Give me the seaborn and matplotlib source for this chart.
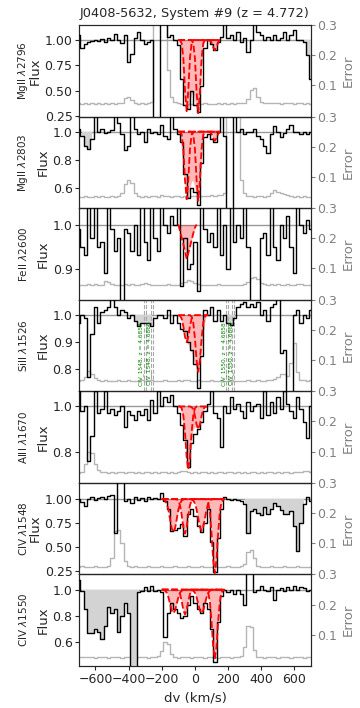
import numpy as np
import matplotlib
matplotlib.use("Agg")
import matplotlib.pyplot as plt
import seaborn as sns

sns.set_style("ticks")

# pixel velocity grid (km/s)
v_pix = np.arange(-700, 701, 20)

title = "J0408-5632, System #9 (z = 4.772)"
species = [r"MgII $\lambda$2796", r"MgII $\lambda$2803", r"FeII $\lambda$2600",
           r"SiII $\lambda$1526", r"AlII $\lambda$1670", r"CIV $\lambda$1548",
           r"CIV $\lambda$1550"]

flux_mg2796 = [1.05, 0.92, 0.96, 0.98, 0.99, 1.00, 0.99, 1.01, 0.98, 1.02,
               1.00, 1.06, 1.00, 0.97, 1.05, 0.78, 0.86, 1.02, 1.08, 1.00,
               0.96, 0.98, 1.00, -0.5, -0.5, 2.0, 2.0, 1.03, 1.05, 1.00,
               0.95, 0.62, 0.36, 0.32, 0.50, 0.36, 0.29, 0.55, 0.92, 1.00,
               0.96, 0.90, 0.98, 1.03, 1.16, 1.02, 1.05, 1.00, 1.08, 0.98,
               1.02, 0.88, 1.00, 1.16, 1.08, 1.05, 1.00, 1.03, 1.00, 1.05,
               1.00, 1.02, 1.08, 1.00, 1.05, 1.10, 1.00, 1.00, 0.98, 0.85,
               0.62]
err_mg2796 = [0.040, 0.038, 0.040, 0.039, 0.041, 0.038, 0.040, 0.039, 0.041, 0.038,
              0.040, 0.039, 0.040, 0.042, 0.058, 0.060, 0.050, 0.041, 0.039, 0.040,
              0.038, 0.041, 0.045, 0.60, 0.60, 0.60, 0.60, 0.15, 0.06, 0.045,
              0.040, 0.038, 0.036, 0.037, 0.039, 0.036, 0.035, 0.037, 0.040, 0.038,
              0.039, 0.037, 0.040, 0.038, 0.041, 0.039, 0.040, 0.038, 0.041, 0.040,
              0.042, 0.055, 0.085, 0.090, 0.060, 0.045, 0.041, 0.040, 0.042, 0.040,
              0.041, 0.039, 0.040, 0.042, 0.040, 0.039, 0.041, 0.040, 0.038, 0.040,
              0.039]

flux_mg2803 = [1.02, 0.97, 0.90, 0.88, 0.95, 1.12, 1.00, 1.02, 0.99, 1.00,
               1.01, 1.12, 1.06, 0.98, 0.87, 0.90, 1.12, 1.02, 0.98, 1.00,
               0.93, 1.02, 0.99, 1.00, 0.98, 1.05, 0.97, 0.95, 1.12, 1.02,
               0.98, 0.93, 0.70, 0.53, 0.60, 0.57, 0.48, 0.78, 0.96, 0.98,
               0.95, 0.93, 1.00, 1.12, 0.97, 0.30, 0.30, 1.12, 1.00, 1.02,
               0.98, 1.00, 1.00, 1.02, 0.97, 0.95, 0.90, 0.85, 0.98, 1.04,
               1.00, 0.96, 0.99, 1.02, 1.05, 1.00, 1.00, 0.98, 1.00, 0.98,
               1.00]
err_mg2803 = [0.034, 0.033, 0.035, 0.034, 0.033, 0.035, 0.034, 0.036, 0.034, 0.033,
              0.035, 0.034, 0.036, 0.045, 0.075, 0.090, 0.080, 0.045, 0.036, 0.034,
              0.035, 0.033, 0.035, 0.036, 0.034, 0.038, 0.035, 0.036, 0.034, 0.037,
              0.035, 0.034, 0.036, 0.033, 0.035, 0.036, 0.034, 0.035, 0.037, 0.035,
              0.038, 0.036, 0.038, 0.040, 0.045, 0.60, 0.60, 0.60, 0.60, 0.09,
              0.045, 0.036, 0.035, 0.034, 0.036, 0.035, 0.034, 0.036, 0.045, 0.055,
              0.050, 0.045, 0.042, 0.038, 0.036, 0.034, 0.035, 0.033, 0.035, 0.034,
              0.034]

flux_fe2600 = [0.99, 0.95, 0.93, 1.05, 0.97, 1.05, 0.95, 0.96, 0.89, 1.05,
               0.99, 0.94, 0.97, 0.82, 0.99, 0.98, 0.94, 1.00, 0.93, 1.05,
               0.96, 0.92, 1.05, 0.97, 0.94, 1.05, 1.00, 0.98, 1.02, 1.00,
               1.05, 0.86, 0.97, 0.90, 0.91, 0.96, 0.85, 1.05, 0.99, 0.96,
               0.98, 0.95, 1.05, 0.93, 1.00, 0.90, 1.05, 0.96, 1.00, 0.97,
               1.05, 0.95, 0.82, 0.82, 0.82, 0.97, 0.98, 0.93, 1.05, 0.95,
               0.92, 1.00, 0.97, 1.02, 0.95, 0.89, 1.05, 1.00, 0.98, 1.01,
               0.99]
err_fe2600 = [0.045, 0.046, 0.044, 0.048, 0.045, 0.047, 0.044, 0.046, 0.058, 0.055,
              0.047, 0.045, 0.046, 0.044, 0.048, 0.045, 0.047, 0.046, 0.045, 0.048,
              0.050, 0.047, 0.045, 0.046, 0.044, 0.046, 0.045, 0.047, 0.045, 0.046,
              0.045, 0.050, 0.055, 0.060, 0.058, 0.052, 0.047, 0.045, 0.046, 0.044,
              0.046, 0.045, 0.047, 0.045, 0.046, 0.044, 0.046, 0.045, 0.044, 0.046,
              0.048, 0.055, 0.068, 0.072, 0.065, 0.052, 0.047, 0.046, 0.048, 0.045,
              0.047, 0.046, 0.045, 0.048, 0.046, 0.045, 0.047, 0.048, 0.046, 0.045,
              0.046]

flux_si1526 = [0.97, 1.00, 0.99, 0.77, 0.93, 1.03, 0.97, 1.01, 1.02, 1.03,
               1.07, 1.03, 1.00, 1.02, 1.01, 0.99, 1.00, 0.98, 0.96, 0.97,
               0.97, 0.97, 0.96, 0.99, 1.00, 1.00, 0.99, 1.02, 0.97, 1.00,
               0.97, 0.95, 0.94, 0.90, 0.87, 0.82, 0.73, 0.85, 1.02, 1.00,
               1.03, 0.98, 1.02, 0.98, 1.00, 0.97, 0.965, 0.99, 1.03, 1.04,
               1.05, 1.03, 1.04, 1.03, 1.05, 1.00, 1.02, 0.98, 1.03, 1.04,
               1.07, 0.86, 0.87, 0.70, 0.70, 1.00, 1.02, 0.97, 1.00, 0.99,
               1.02]
err_si1526 = [0.031, 0.032, 0.045, 0.062, 0.055, 0.040, 0.033, 0.031, 0.032, 0.030,
              0.031, 0.030, 0.032, 0.031, 0.030, 0.032, 0.031, 0.030, 0.031, 0.032,
              0.030, 0.031, 0.032, 0.030, 0.031, 0.030, 0.032, 0.031, 0.030, 0.031,
              0.032, 0.031, 0.033, 0.032, 0.031, 0.030, 0.032, 0.031, 0.030, 0.031,
              0.032, 0.030, 0.031, 0.032, 0.030, 0.031, 0.032, 0.030, 0.031, 0.030,
              0.031, 0.032, 0.030, 0.031, 0.032, 0.030, 0.031, 0.033, 0.035, 0.038,
              0.045, 0.052, 0.055, 0.048, 0.090, 0.155, 0.060, 0.035, 0.032, 0.031,
              0.032]

flux_al1670 = [1.07, 0.98, 1.00, 0.76, 0.87, 1.07, 0.97, 0.99, 1.07, 0.97,
               0.99, 0.96, 0.98, 1.00, 0.91, 0.98, 0.96, 0.94, 0.98, 0.96,
               0.99, 0.94, 1.03, 0.97, 1.07, 1.00, 1.04, 1.02, 1.05, 1.00,
               0.97, 0.92, 0.85, 0.73, 0.84, 0.88, 0.90, 0.93, 0.98, 1.01,
               1.07, 0.97, 0.95, 0.82, 1.00, 0.97, 1.04, 0.99, 1.01, 0.98,
               0.95, 1.02, 0.98, 1.00, 1.01, 0.95, 1.07, 0.96, 1.02, 0.97,
               1.04, 0.99, 1.07, 1.01, 0.98, 0.95, 1.04, 0.99, 0.93, 0.86,
               1.00]
err_al1670 = [0.030, 0.031, 0.060, 0.100, 0.095, 0.060, 0.040, 0.033, 0.031, 0.030,
              0.031, 0.030, 0.032, 0.031, 0.030, 0.032, 0.031, 0.030, 0.031, 0.030,
              0.031, 0.032, 0.030, 0.031, 0.030, 0.032, 0.031, 0.030, 0.031, 0.030,
              0.033, 0.035, 0.034, 0.031, 0.030, 0.031, 0.030, 0.032, 0.031, 0.030,
              0.031, 0.030, 0.032, 0.031, 0.030, 0.031, 0.032, 0.030, 0.031, 0.030,
              0.031, 0.030, 0.032, 0.031, 0.030, 0.031, 0.030, 0.032, 0.031, 0.030,
              0.031, 0.030, 0.032, 0.031, 0.030, 0.031, 0.032, 0.033, 0.035, 0.034,
              0.032]

flux_c1548 = [1.00, 0.97, 0.93, 1.00, 1.02, 0.99, 1.01, 1.02, 1.00, 1.03,
              1.04, 0.65, 1.20, 1.20, 0.98, 1.00, 0.96, 1.02, 0.99, 1.01,
              0.98, 1.02, 1.00, 1.01, 1.00, 1.06, 0.98, 0.90, 0.67, 0.68,
              0.70, 0.74, 0.62, 0.85, 0.90, 0.82, 0.72, 0.66, 0.75, 0.90,
              0.55, 0.24, 0.60, 0.90, 1.02, 1.00, 0.99, 1.00, 0.99, 0.98,
              0.95, 0.65, 0.88, 0.90, 0.86, 0.83, 0.92, 0.84, 0.90, 0.96,
              0.93, 0.89, 0.85, 0.84, 0.88, 0.72, 0.46, 0.75, 0.95, 1.02,
              0.98]
err_c1548 = [0.022, 0.023, 0.022, 0.021, 0.022, 0.023, 0.022, 0.021, 0.022, 0.023,
             0.050, 0.140, 0.145, 0.100, 0.040, 0.024, 0.022, 0.023, 0.022, 0.021,
             0.022, 0.023, 0.022, 0.021, 0.022, 0.023, 0.022, 0.021, 0.022, 0.023,
             0.022, 0.021, 0.022, 0.023, 0.022, 0.021, 0.022, 0.023, 0.022, 0.021,
             0.022, 0.023, 0.022, 0.021, 0.022, 0.023, 0.022, 0.021, 0.022, 0.023,
             0.030, 0.070, 0.078, 0.050, 0.025, 0.022, 0.021, 0.022, 0.023, 0.022,
             0.021, 0.022, 0.023, 0.022, 0.021, 0.022, 0.023, 0.022, 0.021, 0.022,
             0.022]

flux_c1550 = [1.07, 0.99, 0.85, 0.67, 0.67, 0.70, 0.68, 0.62, 0.72, 0.87,
              0.82, 0.85, 0.68, 0.80, 0.90, 0.82, 0.30, 0.30, 0.98, 0.99,
              1.02, 0.99, 1.03, 0.99, 1.00, 0.98, 0.64, 0.82, 0.90, 0.85,
              0.82, 0.78, 0.80, 0.88, 0.95, 0.90, 0.85, 0.82, 0.90, 0.85,
              0.70, 0.45, 0.75, 0.95, 1.00, 0.98, 1.00, 0.97, 1.00, 0.97,
              0.88, 1.20, 1.20, 0.98, 1.00, 1.03, 1.00, 0.99, 1.02, 0.92,
              1.00, 1.01, 0.99, 1.02, 1.00, 1.03, 1.00, 1.02, 1.01, 0.99,
              1.00]
err_c1550 = [0.027, 0.026, 0.025, 0.026, 0.025, 0.024, 0.025, 0.026, 0.025, 0.024,
             0.025, 0.026, 0.025, 0.024, 0.025, 0.026, 0.025, 0.024, 0.025, 0.026,
             0.025, 0.024, 0.025, 0.026, 0.030, 0.045, 0.076, 0.070, 0.035, 0.025,
             0.024, 0.025, 0.026, 0.025, 0.024, 0.025, 0.026, 0.025, 0.024, 0.025,
             0.026, 0.025, 0.024, 0.025, 0.026, 0.025, 0.024, 0.025, 0.026, 0.030,
             0.060, 0.130, 0.125, 0.050, 0.027, 0.025, 0.024, 0.025, 0.026, 0.025,
             0.024, 0.025, 0.026, 0.025, 0.024, 0.025, 0.026, 0.025, 0.024, 0.025,
             0.025]

# model fits (total profile + components) on 10 km/s grids
vmod_mg2796 = np.arange(-100, 151, 10)
mod_mg2796 = [1.0, 0.96, 0.72, 0.52, 0.38, 0.31, 0.33, 0.40, 0.47, 0.47,
              0.40, 0.30, 0.29, 0.45, 0.72, 0.93, 0.99, 1.0, 1.0, 0.99,
              0.96, 0.92, 0.90, 0.93, 0.98, 1.0]
comp_mg2796 = [
    [1.0, 0.997, 0.969, 0.825, 0.505, 0.30, 0.505, 0.825, 0.969, 0.997] + [1.0] * 16,
    [1.0] * 8 + [0.997, 0.968, 0.82, 0.49, 0.28, 0.49, 0.82, 0.968, 0.997] + [1.0] * 9,
    [1.0] * 19 + [0.996, 0.975, 0.929, 0.90, 0.929, 0.975, 0.996],
]

vmod_mg2803 = np.arange(-100, 151, 10)
mod_mg2803 = [1.0, 0.97, 0.85, 0.72, 0.60, 0.52, 0.54, 0.60, 0.65, 0.65,
              0.60, 0.53, 0.51, 0.62, 0.82, 0.95, 0.99, 1.0, 1.0, 0.99,
              0.975, 0.95, 0.935, 0.95, 0.985, 1.0]
comp_mg2803 = [
    [1.0, 0.998, 0.979, 0.88, 0.66, 0.52, 0.66, 0.88, 0.979, 0.998] + [1.0] * 16,
    [1.0] * 8 + [0.998, 0.978, 0.877, 0.654, 0.51, 0.654, 0.877, 0.978, 0.998] + [1.0] * 9,
    [1.0] * 19 + [0.997, 0.984, 0.954, 0.935, 0.954, 0.984, 0.997],
]

vmod_fe2600 = np.arange(-100, 11, 10)
mod_fe2600 = [1.0, 0.985, 0.97, 0.955, 0.94, 0.922, 0.935, 0.95, 0.965, 0.98, 0.993, 1.0]
comp_fe2600 = [mod_fe2600]

vmod_si1526 = np.arange(-100, 81, 10)
mod_si1526 = [1.0, 1.0, 0.975, 0.95, 0.925, 0.905, 0.89, 0.875, 0.86, 0.84,
              0.815, 0.80, 0.79, 0.82, 0.87, 0.93, 0.975, 1.0, 1.0]
comp_si1526 = [
    [1.0, 0.997, 0.987, 0.959, 0.92, 0.90, 0.92, 0.959, 0.987, 0.997] + [1.0] * 9,
    [1.0] * 8 + [0.994, 0.972, 0.914, 0.832, 0.79, 0.832, 0.914, 0.972, 0.994, 1.0, 1.0],
]

vmod_al1670 = np.arange(-100, 71, 10)
mod_al1670 = [1.0, 1.0, 0.96, 0.90, 0.83, 0.76, 0.72, 0.78, 0.86, 0.90,
              0.91, 0.905, 0.90, 0.92, 0.955, 0.985, 1.0, 1.0]
comp_al1670 = [
    [1.0, 1.0, 0.992, 0.962, 0.885, 0.776, 0.72, 0.776, 0.885, 0.962, 0.992] + [1.0] * 7,
    [1.0] * 8 + [0.997, 0.987, 0.959, 0.92, 0.90, 0.92, 0.959, 0.987, 0.997, 1.0],
]

vmod_c1548 = np.arange(-200, 181, 10)
mod_c1548 = [1.0, 0.996, 0.985, 0.953, 0.888, 0.79, 0.696, 0.655, 0.696, 0.788,
             0.874, 0.894, 0.823, 0.701, 0.64, 0.704, 0.835, 0.938, 0.98, 0.982,
             0.955, 0.893, 0.80, 0.709, 0.67, 0.709, 0.80, 0.888, 0.923, 0.854,
             0.644, 0.366, 0.23, 0.366, 0.647, 0.867, 0.966, 0.994, 1.0]
comp_c1548 = [
    [1.0, 0.996, 0.985, 0.953, 0.888, 0.79, 0.696, 0.655, 0.696, 0.79, 0.888,
     0.953, 0.985, 0.996] + [1.0] * 25,
    [1.0] * 9 + [0.997, 0.984, 0.938, 0.835, 0.704, 0.64, 0.704, 0.835, 0.938,
                 0.984, 0.997] + [1.0] * 19,
    [1.0] * 18 + [0.996, 0.985, 0.955, 0.893, 0.80, 0.709, 0.67, 0.709, 0.80,
                  0.893, 0.955, 0.985, 0.996] + [1.0] * 8,
    [1.0] * 27 + [0.994, 0.966, 0.867, 0.647, 0.366, 0.23, 0.366, 0.647, 0.867,
                  0.966, 0.994, 1.0],
]

vmod_c1550 = np.arange(-200, 181, 10)
mod_c1550 = [1.0, 0.998, 0.992, 0.976, 0.942, 0.891, 0.841, 0.82, 0.841, 0.89,
             0.934, 0.944, 0.906, 0.842, 0.81, 0.844, 0.913, 0.965, 0.99, 0.991,
             0.976, 0.942, 0.891, 0.841, 0.82, 0.841, 0.891, 0.938, 0.954, 0.901,
             0.755, 0.564, 0.47, 0.564, 0.757, 0.908, 0.977, 0.996, 1.0]
comp_c1550 = [
    [1.0, 0.998, 0.992, 0.976, 0.942, 0.891, 0.841, 0.82, 0.841, 0.891, 0.942,
     0.976, 0.992, 0.998] + [1.0] * 25,
    [1.0] * 9 + [0.999, 0.992, 0.967, 0.913, 0.844, 0.81, 0.844, 0.913, 0.967,
                 0.992, 0.999] + [1.0] * 19,
    [1.0] * 18 + [0.998, 0.992, 0.976, 0.942, 0.891, 0.841, 0.82, 0.841, 0.891,
                  0.942, 0.976, 0.992, 0.998] + [1.0] * 8,
    [1.0] * 27 + [0.996, 0.977, 0.908, 0.757, 0.564, 0.47, 0.564, 0.757, 0.908,
                  0.977, 0.996, 1.0],
]

# blended / masked velocity ranges (grey)
mask_ranges = [[(650, 700)], [(-690, -610)], [], [(-360, -250), (180, 250)], [],
               [(300, 670)], [(-690, -340)]]

# interloper markers on SiII panel
interloper_v = [-310, -296, -266, -252, 186, 200, 226, 238]
interloper_lab = ["CIV_1548, z = 4.6858", "CIV_1548, z = 4.6866",
                  "CIV_1550, z = 4.6858", "CIV_1550, z = 4.6866"]
interloper_lab_v = [-322, -276, 175, 216]

ylims = [(0.247, 1.148), (0.457, 1.107), (0.830, 1.037), (0.718, 1.057),
         (0.662, 1.067), (0.216, 1.169), (0.417, 1.116)]
yticks = [[0.25, 0.5, 0.75, 1.0], [0.6, 0.8, 1.0], [0.9, 1.0], [0.8, 0.9, 1.0],
          [0.8, 1.0], [0.25, 0.5, 0.75, 1.0], [0.6, 0.8, 1.0]]
yfmt = ["%.2f", "%.1f", "%.1f", "%.1f", "%.1f", "%.2f", "%.1f"]

fluxes = [flux_mg2796, flux_mg2803, flux_fe2600, flux_si1526, flux_al1670, flux_c1548, flux_c1550]
errs = [err_mg2796, err_mg2803, err_fe2600, err_si1526, err_al1670, err_c1548, err_c1550]
vmods = [vmod_mg2796, vmod_mg2803, vmod_fe2600, vmod_si1526, vmod_al1670, vmod_c1548, vmod_c1550]
mods = [mod_mg2796, mod_mg2803, mod_fe2600, mod_si1526, mod_al1670, mod_c1548, mod_c1550]
comps = [comp_mg2796, comp_mg2803, comp_fe2600, comp_si1526, comp_al1670, comp_c1548, comp_c1550]

fig, axes = plt.subplots(7, 1, figsize=(3.6, 7.08), dpi=100, sharex=True)
fig.subplots_adjust(left=0.219, right=0.864, top=0.9647, bottom=0.0593, hspace=0)

for i, ax in enumerate(axes):
    flux = np.array(fluxes[i])
    ax2 = ax.twinx()
    sns.lineplot(x=v_pix, y=errs[i], ax=ax2, color="#b5b5b5", linewidth=1,
                 drawstyle="steps-mid")
    ax2.set_ylim(-0.004, 0.3)
    ax2.set_yticks([0.1, 0.2, 0.3])
    ax2.tick_params(axis="y", colors="gray", labelsize=9, length=3, pad=1.5)
    ax2.set_ylabel("Error", color="gray", fontsize=9.5, labelpad=3)
    ax.set_zorder(ax2.get_zorder() + 1)
    ax.patch.set_visible(False)

    ax.axhline(1.0, color="#999999", lw=1, zorder=1)
    for lo, hi in mask_ranges[i]:
        sel = (v_pix >= lo) & (v_pix <= hi)
        ax.fill_between(v_pix, np.minimum(flux, 1.0), 1.0, where=sel, step="mid",
                        color="#d3d3d3", lw=0, zorder=1)
    ax.fill_between(vmods[i], mods[i], 1.0, color="red", alpha=0.28, lw=0, zorder=2)
    for c in comps[i]:
        ax.plot(vmods[i], c, color="red", ls="--", lw=1.3, zorder=4)
    sns.lineplot(x=v_pix, y=flux, ax=ax, color="black", linewidth=1,
                 drawstyle="steps-mid", zorder=3)

    ax.set_ylim(*ylims[i])
    ax.set_yticks(yticks[i])
    ax.yaxis.set_major_formatter(matplotlib.ticker.FormatStrFormatter(yfmt[i]))
    ax.tick_params(axis="y", labelsize=9, length=3, pad=1.5)
    ax.set_ylabel("Flux", fontsize=9.5, labelpad=2)
    ax.text(-0.24, 0.5, species[i], transform=ax.transAxes, rotation=90,
            ha="center", va="center", fontsize=7.5)
    if i < 6:
        ax.tick_params(axis="x", length=0)

# interlopers on the SiII panel
ax_si = axes[3]
for xv in interloper_v:
    ax_si.axvline(xv, color="darkgray", ls="--", lw=0.8, zorder=1)
for lab, xv in zip(interloper_lab, interloper_lab_v):
    ax_si.text(xv, 0.975, lab, rotation=90, color="green", fontsize=4.2,
               ha="center", va="top", clip_on=False, zorder=5)

axes[-1].set_xlim(-700, 700)
axes[-1].set_xticks([-600, -400, -200, 0, 200, 400, 600])
axes[-1].tick_params(axis="x", labelsize=9, length=3, pad=2)
axes[-1].set_xlabel("dv (km/s)", fontsize=9.5)
axes[0].set_title(title, fontsize=9.3)

fig.savefig("out.png", dpi=100)
